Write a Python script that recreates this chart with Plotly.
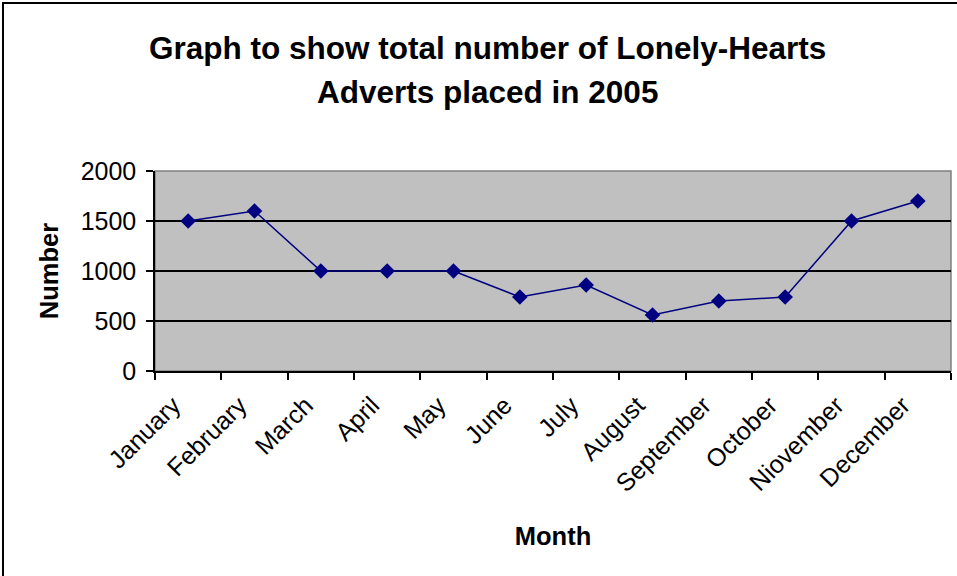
import plotly.graph_objects as go

months = ["January", "February", "March", "April", "May", "June", "July",
          "August", "September", "October", "Niovember", "December"]
adverts = [1500, 1600, 1000, 1000, 1000, 740, 860, 560, 700, 740, 1500, 1700]

title_lines = ["Graph to show total number of Lonely-Hearts", "Adverts placed in 2005"]

FONT = "Liberation Sans, Arial, sans-serif"

W, H = 957, 576
L, R, T, B = 155, 6, 171, 205
PW, PH = W - L - R, H - T - B


def px_x(p):
    return (p - L) / PW


def px_y(p):
    return 1 + (T - p) / PH


fig = go.Figure()
fig.add_trace(go.Scatter(
    x=months, y=adverts, mode="lines+markers",
    line=dict(color="#000080", width=1.5),
    marker=dict(symbol="diamond", size=12, color="#000080"),
    showlegend=False,
))

fig.update_layout(
    width=W, height=H,
    paper_bgcolor="white", plot_bgcolor="#C0C0C0",
    margin=dict(l=L, r=R, t=T, b=B, autoexpand=False),
    font=dict(family=FONT, size=24, color="black"),
    shapes=[
        dict(type="rect", xref="paper", yref="paper", x0=px_x(3), x1=px_x(1400), y0=px_y(1200), y1=px_y(3),
             line=dict(color="black", width=2), fillcolor="rgba(0,0,0,0)", layer="below"),
        dict(type="rect", xref="x domain", yref="y domain", x0=0, x1=1, y0=0, y1=1,
             line=dict(color="#808080", width=1.5), layer="below"),
    ],
    annotations=[
        dict(text=f"<b>{title_lines[0]}</b>", xref="paper", yref="paper",
             x=px_x(487), y=px_y(48), xanchor="center", yanchor="middle",
             showarrow=False, font=dict(size=31.5)),
        dict(text=f"<b>{title_lines[1]}</b>", xref="paper", yref="paper",
             x=px_x(487), y=px_y(92), xanchor="center", yanchor="middle",
             showarrow=False, font=dict(size=31.5)),
    ],
)

fig.update_xaxes(
    type="category", range=[-0.5, len(months) - 0.5], tickangle=-45, tickson="boundaries",
    automargin=False, ticklabelshift=-15, ticklabelstandoff=8,
    ticks="outside", ticklen=7, tickwidth=1.5, tickcolor="black",
    showline=True, linecolor="black", linewidth=1.5, showgrid=False,
    tickfont=dict(size=25),
    title=dict(text="<b>Month</b>", font=dict(size=25.5), standoff=31),
)
fig.update_yaxes(
    range=[0, 2000], dtick=500, tickformat="d", automargin=False,
    ticks="outside", ticklen=7, tickwidth=1.5, tickcolor="black",
    showline=True, linecolor="black", linewidth=1.5, ticklabelstandoff=5,
    showgrid=True, gridcolor="black", gridwidth=1.5, zeroline=False,
    tickfont=dict(size=25),
    title=dict(text="<b>Number</b>", font=dict(size=25.5), standoff=15),
)

# drop the default 8px body margin so the figure sits at the window's corner
fig.write_html("out.html", config={"displayModeBar": False},
               post_script="document.body.style.margin = '0px';")
